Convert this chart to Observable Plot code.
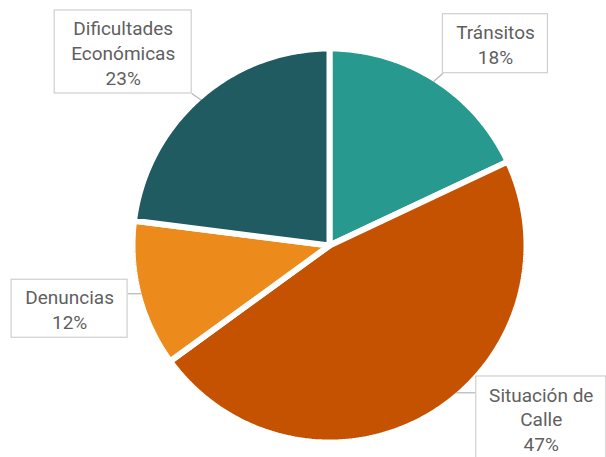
<!DOCTYPE html>
<html>
<head>
<meta charset="utf-8">
<script src="https://cdn.jsdelivr.net/npm/d3@7"></script>
<script src="https://cdn.jsdelivr.net/npm/@observablehq/plot@0.6"></script>
<style>
  html, body { margin: 0; padding: 0; background: #fff; }
</style>
</head>
<body>
<div id="chart"></div>
<script>
// ---- data ----
const categories = ["Tránsitos", "Situación de Calle", "Denuncias", "Dificultades Económicas"];
const shares = [18, 47, 12, 23];
const labelLines = ["Tránsitos", "Situación de\nCalle", "Denuncias", "Dificultades\nEconómicas"];
const sliceColors = ["#27998F", "#C45200", "#EC8A1B", "#1F5B61"];

// ---- layout (pixels) ----
const W = 606, H = 457;
const CX = 329, CY = 245, R = 197;
// callout box offset from slice edge anchor and box size
const calloutLayout = [
  {dx: 62, dy: -38, w: 105, h: 59},
  {dx: 113, dy: 6, w: 130, h: 84},
  {dx: -72, dy: 15, w: 116, h: 58},
  {dx: -78, dy: -48, w: 137, h: 83}
];
const leaderNudge = [0, -10, 0, 0];

const pie = d3.pie().sort(null).value(d => d)(shares);
const polar = (a, r) => [CX + r * Math.sin(a), CY - r * Math.cos(a)];

// slice polygons
const slicePts = [];
pie.forEach((p, i) => {
  slicePts.push({cat: categories[i], x: CX, y: CY});
  const n = Math.max(2, Math.ceil((p.endAngle - p.startAngle) / (Math.PI / 180)));
  for (let k = 0; k <= n; k++) {
    const a = p.startAngle + (p.endAngle - p.startAngle) * k / n;
    const [x, y] = polar(a, R);
    slicePts.push({cat: categories[i], x, y});
  }
  slicePts.push({cat: categories[i], x: CX, y: CY});
});

// callouts
const callouts = pie.map((p, i) => {
  const mid = (p.startAngle + p.endAngle) / 2;
  const [ax, ay] = polar(mid, R - 3);
  const L = calloutLayout[i];
  const cx = ax + L.dx, cy = ay + L.dy;
  const x1 = cx - L.w / 2, x2 = cx + L.w / 2, y1 = cy - L.h / 2, y2 = cy + L.h / 2;
  const [lx, ly] = polar(mid + leaderNudge[i] * Math.PI / 180, R - 3);
  const bx = Math.max(x1, Math.min(x2, lx)), by = Math.max(y1, Math.min(y2, ly));
  return {
    cat: categories[i], lx, ly, bx, by, cx, cy, x1, x2, y1, y2,
    text: labelLines[i] + "\n" + shares[i] + "%"
  };
});

const chart = Plot.plot({
  width: W, height: H,
  margin: 0,
  x: {domain: [0, W], range: [0, W], axis: null},
  y: {domain: [0, H], range: [0, H], axis: null},
  color: {domain: categories, range: sliceColors},
  style: {fontFamily: "Roboto, 'Open Sans', sans-serif", background: "#fff"},
  marks: [
    Plot.line(slicePts, {x: "x", y: "y", z: "cat", fill: "cat", stroke: "#fff", strokeWidth: 6, strokeLinejoin: "miter", curve: "linear"}),
    Plot.link(callouts, {x1: "lx", y1: "ly", x2: "bx", y2: "by", stroke: "#b5b5b5", strokeWidth: 1.2}),
    Plot.rect(callouts, {x1: "x1", x2: "x2", y1: "y1", y2: "y2", fill: "#fff", stroke: "#cfcfcf", strokeWidth: 1.2}),
    Plot.text(callouts, {x: "cx", y: "cy", text: "text", fill: "#5f5f5f", fontSize: 19, lineHeight: 1.3, lineAnchor: "middle", textAnchor: "middle"})
  ]
});
document.getElementById("chart").appendChild(chart);
</script>
</body>
</html>
